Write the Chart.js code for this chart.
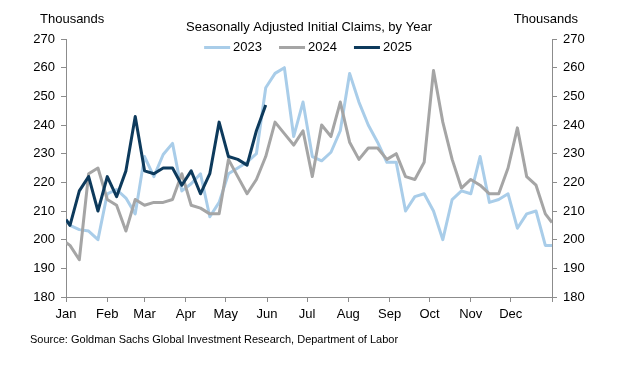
<!DOCTYPE html>
<html>
<head>
<meta charset="utf-8">
<script src="https://cdn.jsdelivr.net/npm/chart.js@4.4.1/dist/chart.umd.min.js"></script>
<style>
  html, body { margin: 0; padding: 0; background: #fff; }
  #wrap { position: relative; width: 629px; height: 365px; }
</style>
</head>
<body>
<div id="wrap"><canvas id="c" width="629" height="365"></canvas></div>
<script>
// ---- data ----
const titleText = 'Seasonally Adjusted Initial Claims, by Year';
const sourceText = 'Source: Goldman Sachs Global Investment Research, Department of Labor';
const unitLabel = 'Thousands';
const monthLabels = ['Jan','Feb','Mar','Apr','May','Jun','Jul','Aug','Sep','Oct','Nov','Dec',''];
const monthStartDay = [0,31,59,90,120,151,181,212,243,273,304,334,365];
// day of year (0 = Jan 1) of each weekly observation
const weekDay = [0,3,10,17,24,31,38,45,52,59,66,73,80,87,94,101,108,115,122,129,136,143,150,157,164,171,178,185,192,199,206,213,220,227,234,241,248,255,262,269,276,283,290,297,304,311,318,325,332,339,346,353,360,365];
const seriesNames = ['2023','2024','2025'];
const claims2023 = [207,205,203.5,203,200,216,217.5,214.5,209,229,222,229.7,233.6,217,219.5,223,208,213,223,225,227,230,253,258,260,236,248,229,227.5,230.5,238,258,248,240,234,227,227,210,215,216,210,200,214,217,216,229,213,214,216,204,209,210,198,198];
const claims2024 = [199,198,193,223,225,214,212,203,214,212,213,213,214,223,212,211,209,209,228,222,216,221,229,241,237,233,238,222,240,236,248,234,228,232,232,228,230,222,221,227,259,241,228,218,221,219,216,216,225,239,222,219,209,206];
const claims2025 = [207,205,217,222,210,222,215,224,243,224,223,225,225,219,224,216,223,241,229,228,226,238,247];
const yMin = 180, yMax = 270, yStep = 10;

const FONT = "'Liberation Sans', Arial, Helvetica, sans-serif";
const AXIS = '#8c8c8c';
const colors = ['#a9cde9', '#a5a5a5', '#0d3a5c'];

function toPoints(vals) { return vals.map((v, i) => ({ x: weekDay[i], y: v })); }

const overlayText = {
  id: 'overlayText',
  afterDraw(chart) {
    const ctx = chart.ctx;
    ctx.save();
    ctx.font = '13px ' + FONT;
    ctx.fillStyle = '#000';
    ctx.textBaseline = 'middle';
    ctx.textAlign = 'left';
    ctx.fillText(unitLabel, 40, 19.5);
    ctx.textAlign = 'right';
    ctx.fillText(unitLabel, 578, 19.5);
    // legend
    const ds = chart.data.datasets;
    const sw = 26, gap = 3, between = 17, ly = 47.5;
    const widths = ds.map(d => sw + gap + ctx.measureText(d.label).width);
    const total = widths.reduce((a, b) => a + b, 0) + between * (ds.length - 1);
    const ca = chart.chartArea;
    let x = (ca.left + ca.right) / 2 - total / 2 - 1;
    ds.forEach((d, i) => {
      ctx.strokeStyle = d.borderColor;
      ctx.lineWidth = 3;
      ctx.lineCap = 'butt';
      ctx.beginPath();
      ctx.moveTo(x, ly);
      ctx.lineTo(x + sw, ly);
      ctx.stroke();
      ctx.textAlign = 'left';
      ctx.fillStyle = '#000';
      ctx.fillText(d.label, x + sw + gap, ly);
      x += widths[i] + between;
    });
    ctx.restore();
  }
};

const chart = new Chart(document.getElementById('c'), {
  type: 'line',
  data: {
    datasets: [
      { label: seriesNames[0], data: toPoints(claims2023), borderColor: colors[0], order: 3 },
      { label: seriesNames[1], data: toPoints(claims2024), borderColor: colors[1], order: 2 },
      { label: seriesNames[2], data: toPoints(claims2025), borderColor: colors[2], order: 1 }
    ]
  },
  options: {
    responsive: false,
    animation: false,
    devicePixelRatio: 1,
    layout: { padding: { left: 30, right: 0, top: 0, bottom: 18.4 } },
    elements: {
      line: { borderWidth: 3, tension: 0, fill: false, borderJoinStyle: 'round', borderCapStyle: 'butt' },
      point: { radius: 0, hoverRadius: 0 }
    },
    plugins: {
      legend: { display: false },
      tooltip: { enabled: false },
      title: {
        display: true, text: titleText, fullSize: false,
        color: '#000', font: { family: FONT, size: 13, weight: 'normal' },
        padding: { top: 19.7, bottom: 3.7 }
      },
      subtitle: {
        display: true, text: sourceText, position: 'bottom', align: 'start', fullSize: true,
        color: '#000', font: { family: FONT, size: 11, weight: 'normal' },
        padding: { top: 0, bottom: 0 }
      }
    },
    scales: {
      x: {
        type: 'linear', min: 0, max: 365, offset: false,
        afterBuildTicks(s) { s.ticks = monthStartDay.map(v => ({ value: v })); },
        afterFit(s) { s.height = 36.4; },
        ticks: {
          autoSkip: false, maxRotation: 0, minRotation: 0, padding: 5,
          color: '#000', font: { family: FONT, size: 13 },
          callback: (v, i) => monthLabels[i]
        },
        grid: { display: true, drawOnChartArea: false, drawTicks: true, tickLength: 5, color: AXIS },
        border: { display: true, color: AXIS, width: 1 }
      },
      y: {
        position: 'left', min: yMin, max: yMax,
        afterFit(s) { s.width = 36; },
        ticks: { stepSize: yStep, padding: 6, color: '#000', font: { family: FONT, size: 13 } },
        grid: { display: true, drawOnChartArea: false, drawTicks: true, tickLength: 5, color: AXIS },
        border: { display: true, color: AXIS, width: 1 }
      },
      y2: {
        position: 'right', min: yMin, max: yMax,
        afterFit(s) { s.width = 77; },
        ticks: { stepSize: yStep, padding: 6, color: '#000', font: { family: FONT, size: 13 } },
        grid: { display: true, drawOnChartArea: false, drawTicks: true, tickLength: 5, color: AXIS },
        border: { display: true, color: AXIS, width: 1 }
      }
    }
  },
  plugins: [overlayText]
});
</script>
</body>
</html>
